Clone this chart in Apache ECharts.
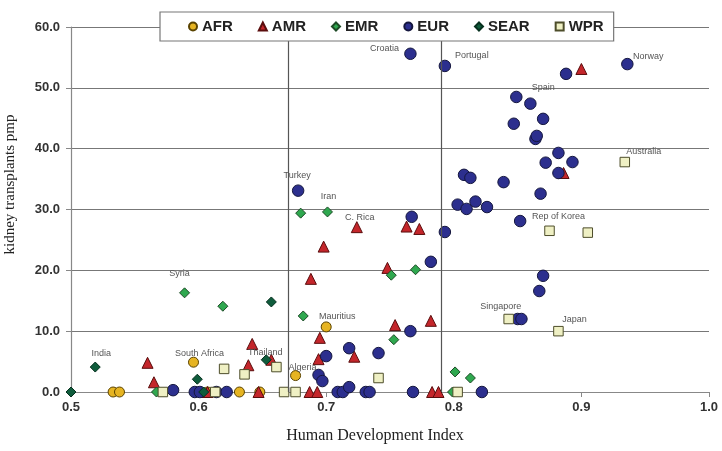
<!DOCTYPE html>
<html>
<head>
<meta charset="utf-8">
<script src="https://cdn.jsdelivr.net/npm/echarts@6/dist/echarts.min.js"></script>
<style>html,body{margin:0;padding:0;background:#fff;}#c{width:722px;height:451px;}</style>
</head>
<body>
<div id="c"></div>
<script>
// ---- data: [HDI, kidney transplants pmp, label] ----
const regions = ['AFR', 'AMR', 'EMR', 'EUR', 'SEAR', 'WPR'];
const xTicks = [0.5, 0.6, 0.7, 0.8, 0.9, 1.0];
const yTicks = [0, 10, 20, 30, 40, 50, 60];
const dividers = [0.672, 0.790];

const AFR = [[0.533,0],[0.538,0],[0.596,4.9,'South Africa'],[0.607,0],[0.632,0],[0.648,0],[0.676,2.7,'Algeria'],[0.700,10.7,'Mauritius']];
const AMR = [[0.560,4.8],[0.565,1.6],[0.607,0],[0.639,4.4],[0.642,7.9],[0.647,0],[0.657,5.3],[0.687,0],[0.688,18.6],[0.693,0],[0.694,5.4],[0.695,8.9],[0.698,23.9],[0.722,5.8],[0.724,27.1,'C. Rica'],[0.748,20.4],[0.754,11.0],[0.763,27.2],[0.773,26.8],[0.782,11.7],[0.783,0],[0.788,0],[0.886,36.0],[0.900,53.1]];
const EMR = [[0.567,0],[0.589,16.3,'Syria'],[0.619,14.1],[0.680,29.4],[0.682,12.5],[0.701,29.6,'Iran'],[0.751,19.2],[0.753,8.6],[0.770,20.1],[0.799,0],[0.801,3.3],[0.813,2.3]];
const EUR = [[0.580,0.3],[0.597,0],[0.601,0],[0.614,0],[0.622,0],[0.709,0],[0.713,0],[0.718,0.8],[0.731,0],[0.734,0],[0.768,0],[0.822,0],
  [0.694,2.8],[0.697,1.8],[0.700,5.9],[0.718,7.2],[0.741,6.4],[0.766,10.0],[0.782,21.4],[0.678,33.1,'Turkey'],[0.767,28.8],[0.793,26.3],
  [0.766,55.6,'Croatia'],[0.793,53.6,'Portugal'],[0.803,30.8],[0.808,35.7],[0.810,30.1],[0.813,35.2],[0.817,31.3],[0.826,30.4],[0.839,34.5],
  [0.847,44.1],[0.849,48.5,'Spain'],[0.852,28.1],[0.850,12.0],[0.853,12.0],[0.860,47.4],[0.864,41.6],[0.865,42.1],[0.867,16.6],[0.868,32.6],
  [0.870,19.1],[0.870,44.9],[0.872,37.7],[0.882,39.3],[0.882,36.0],[0.888,52.3],[0.893,37.8],[0.936,53.9,'Norway']];
const SEAR = [[0.500,0],[0.519,4.1,'India'],[0.599,2.1],[0.604,0],[0.653,5.3,'Thailand'],[0.657,14.8]];
const WPR = [[0.572,0],[0.613,0],[0.620,3.8],[0.636,2.9],[0.661,4.1],[0.667,0],[0.676,0],[0.741,2.3],[0.803,0],[0.843,12.0,'Singapore'],[0.875,26.5,'Rep of Korea'],[0.882,10.0,'Japan'],[0.905,26.2],[0.934,37.8,'Australia']];

// ---- styling ----
const labelOffsets = {
  'Croatia':[-26,-5],'Portugal':[27,-10],'Norway':[21,-8],'Spain':[27,-9],'Australia':[19,-11],
  'Rep of Korea':[9,-14],'Turkey':[-1,-15],'Iran':[1,-15],'C. Rica':[3,-10],'Syria':[-5,-19],
  'India':[6,-14],'South Africa':[6,-9],'Thailand':[-1,-7],'Mauritius':[11,-10],'Algeria':[7,-8],
  'Singapore':[-8,-12],'Japan':[16,-12]
};
const styles = {
  AFR:  {symbol:'circle',   size:10, color:'#E6B422', border:'#5a4300'},
  AMR:  {symbol:'triangle', size:11, color:'#C4262B', border:'#5a0d0d'},
  EMR:  {symbol:'diamond',  size:10, color:'#2FA84F', border:'#1d4a26'},
  EUR:  {symbol:'circle',   size:11.5, color:'#2C2F8E', border:'#15173f'},
  SEAR: {symbol:'diamond',  size:10, color:'#0F5C3C', border:'#06301e'},
  WPR:  {symbol:'rect',     size:9.5, color:'#EFF0C4', border:'#4d4d2a'}
};
const dataMap = {AFR, AMR, EMR, EUR, SEAR, WPR};

function toItems(arr) {
  return arr.map(p => {
    const item = {value:[p[0], p[1]], name: p[2] || ''};
    if (p[2]) item.label = {show:true, offset: labelOffsets[p[2]] || [0,-12]};
    return item;
  });
}

const series = regions.map(r => {
  const s = styles[r];
  return {
    name: r, type: 'scatter', symbol: s.symbol, symbolSize: s.size,
    data: toItems(dataMap[r]),
    itemStyle: {color: s.color, borderColor: s.border, borderWidth: 1, opacity: 1},
    label: {show:false, position:'inside', formatter:'{b}', color:'#555', fontSize:9, fontFamily:'Liberation Sans, Arial, sans-serif'},
    emphasis: {disabled: true},
    animation: false
  };
});
series[0].markLine = {
  silent: true, symbol: 'none', animation: false,
  label: {show:false},
  lineStyle: {color:'#555', type:'solid', width:1.2},
  data: dividers.map(v => ({xAxis: v}))
};

const chart = echarts.init(document.getElementById('c'), null, {renderer:'canvas'});
chart.setOption({
  backgroundColor: '#fff',
  animation: false,
  grid: {left:71, right:13, top:27, bottom:59, containLabel:false, outerBoundsMode:'none'},
  legend: {
    data: regions, left:160, top:12, orient:'horizontal',
    backgroundColor:'#fff', borderColor:'#777', borderWidth:1.2,
    padding:[7,10,7,28], itemGap:25, itemWidth:8, itemHeight:8,
    textStyle:{fontFamily:'Liberation Sans, Arial, sans-serif', fontWeight:'bold', fontSize:15, color:'#222'},
    selectedMode:false, z:10
  },
  xAxis: {
    type:'value', min:xTicks[0], max:xTicks[xTicks.length-1], interval:0.1,
    name:'Human Development Index', nameLocation:'middle', nameGap:36,
    nameTextStyle:{fontFamily:'Liberation Serif, Times New Roman, serif', fontSize:16, color:'#222', padding:[0,30,0,0]},
    axisLine:{show:true, lineStyle:{color:'#888', width:1.2}},
    axisTick:{show:true, length:5, lineStyle:{color:'#888'}},
    axisLabel:{margin:9, formatter: v => v.toFixed(1), fontFamily:'Liberation Sans, Arial, sans-serif', fontWeight:'bold', fontSize:13, color:'#333'},
    splitLine:{show:false}
  },
  yAxis: {
    type:'value', min:yTicks[0], max:yTicks[yTicks.length-1], interval:10,
    name:'kidney transplants pmp', nameLocation:'middle', nameGap:53,
    nameTextStyle:{fontFamily:'Liberation Serif, Times New Roman, serif', fontSize:15, color:'#222', padding:[0,0,0,50]},
    axisLine:{show:true, lineStyle:{color:'#888', width:1.2}},
    axisTick:{show:true, length:5, lineStyle:{color:'#888'}},
    axisLabel:{margin:11, formatter: v => v.toFixed(1), fontFamily:'Liberation Sans, Arial, sans-serif', fontWeight:'bold', fontSize:13, color:'#333'},
    splitLine:{show:true, lineStyle:{color:'#777', width:1.2}}
  },
  series: series
});
</script>
</body>
</html>
